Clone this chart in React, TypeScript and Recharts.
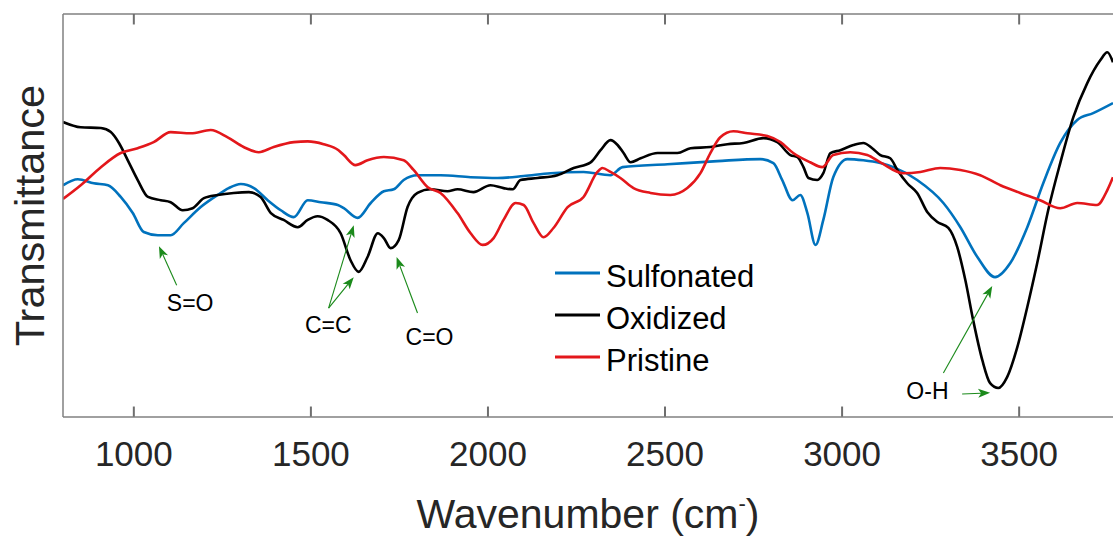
import React from 'react';
import { LineChart, Line, XAxis, YAxis, Legend, ReferenceLine, ReferenceDot } from 'recharts';

const FONT = '"Liberation Sans", Arial, Helvetica, sans-serif';
const AXIS_GRAY = '#808080';
const TICK_GRAY = '#6e6e6e';
const TEXT_DARK = '#262626';
const ARROW_GREEN = '#1b8a1b';

const xTicks = [1000, 1500, 2000, 2500, 3000, 3500];
const xDomain = [800, 3765];
const yDomain = [0, 100];
const tickLen = 2.6; // inward tick length in transmittance units

// Sulfonated (blue)
const sulfonatedWn = [800, 842, 887, 927, 963, 997, 1028, 1068, 1104, 1141, 1189, 1237, 1268, 1302, 1339, 1378, 1415, 1452, 1491, 1528, 1576, 1593, 1632, 1669, 1706, 1734, 1762, 1801, 1866, 1951, 2027, 2101, 2177, 2270, 2346, 2380, 2507, 2648, 2769, 2806, 2831, 2860, 2882, 2902, 2925, 2947, 2975, 3015, 3060, 3108, 3145, 3212, 3286, 3334, 3382, 3432, 3475, 3523, 3568, 3616, 3664, 3709, 3765];
const sulfonatedT = [57.5, 59.0, 58.0, 57.5, 54.6, 50.6, 45.9, 45.1, 45.1, 48.1, 52.1, 55.1, 56.8, 57.8, 56.8, 53.8, 51.3, 49.6, 53.8, 53.3, 52.6, 51.8, 49.4, 53.1, 56.0, 56.5, 58.8, 60.0, 60.0, 59.5, 59.3, 59.8, 60.5, 60.8, 60.0, 62.0, 62.7, 63.5, 64.0, 63.0, 58.8, 53.8, 55.1, 50.6, 42.7, 48.9, 59.5, 64.0, 63.7, 63.0, 62.0, 58.8, 53.1, 47.1, 39.7, 34.7, 38.2, 47.1, 58.0, 68.0, 73.7, 75.4, 77.9];

// Oxidized (black)
const oxidizedWn = [800, 850, 907, 935, 958, 983, 1011, 1040, 1076, 1104, 1138, 1166, 1198, 1237, 1282, 1325, 1358, 1387, 1423, 1463, 1491, 1519, 1547, 1584, 1612, 1635, 1660, 1689, 1706, 1725, 1748, 1773, 1801, 1838, 1886, 1914, 1959, 2007, 2044, 2070, 2092, 2140, 2196, 2242, 2290, 2318, 2346, 2366, 2383, 2403, 2431, 2479, 2535, 2572, 2628, 2676, 2721, 2778, 2817, 2854, 2874, 2891, 2905, 2930, 2947, 2967, 2995, 3032, 3060, 3085, 3108, 3136, 3156, 3184, 3212, 3241, 3269, 3300, 3325, 3348, 3370, 3396, 3418, 3441, 3466, 3495, 3523, 3551, 3582, 3616, 3653, 3692, 3729, 3749, 3765];
const oxidizedT = [73.2, 71.9, 71.7, 70.7, 68.0, 63.7, 58.8, 54.6, 53.8, 53.3, 51.3, 51.8, 54.3, 55.1, 55.6, 55.8, 54.6, 50.6, 48.9, 47.1, 48.9, 49.8, 48.9, 45.6, 38.9, 36.0, 39.7, 45.6, 44.4, 41.9, 43.9, 52.1, 55.6, 56.5, 56.0, 56.5, 55.8, 57.5, 56.8, 56.5, 58.8, 59.3, 60.0, 61.8, 63.2, 66.2, 68.7, 67.5, 65.5, 63.2, 64.2, 65.5, 65.5, 66.7, 67.0, 67.7, 68.0, 69.2, 68.2, 65.0, 64.5, 62.0, 59.3, 58.8, 60.5, 65.5, 66.2, 67.5, 68.0, 66.7, 65.0, 64.2, 61.3, 58.0, 55.6, 50.8, 48.4, 46.9, 42.2, 34.0, 24.1, 14.1, 8.4, 7.2, 9.9, 17.4, 27.3, 38.2, 51.3, 63.0, 74.4, 82.8, 88.5, 90.5, 88.0];

// Pristine (red)
const pristineWn = [800, 850, 907, 963, 1011, 1056, 1104, 1161, 1217, 1265, 1310, 1353, 1395, 1452, 1491, 1536, 1578, 1593, 1626, 1660, 1706, 1762, 1790, 1830, 1866, 1914, 1951, 1985, 2016, 2044, 2078, 2101, 2129, 2157, 2185, 2225, 2270, 2309, 2323, 2346, 2374, 2411, 2459, 2515, 2563, 2600, 2628, 2656, 2693, 2733, 2789, 2826, 2862, 2910, 2944, 2975, 3023, 3071, 3108, 3173, 3221, 3277, 3334, 3390, 3447, 3503, 3559, 3616, 3664, 3720, 3749, 3765];
const pristineT = [54.1, 57.5, 62.0, 65.5, 66.7, 68.2, 70.7, 70.4, 71.2, 69.4, 67.0, 65.7, 67.0, 68.2, 68.4, 67.7, 66.2, 65.0, 62.5, 63.7, 64.5, 63.7, 61.3, 57.0, 55.6, 50.6, 45.6, 42.7, 44.4, 48.9, 53.1, 52.6, 48.1, 44.6, 46.9, 52.1, 54.6, 60.8, 61.8, 60.8, 59.3, 56.8, 55.6, 55.1, 56.8, 60.5, 65.5, 69.4, 70.9, 70.4, 69.7, 68.2, 65.5, 63.2, 62.0, 65.0, 65.7, 65.0, 63.2, 60.5, 60.8, 61.8, 61.3, 60.0, 57.5, 55.6, 53.8, 51.8, 53.1, 52.6, 56.3, 59.5];

// peak labels and arrows (wavenumber, transmittance)
const peakLabels = [
  { text: 'S=O', wn: 1159, t: 26.3 },
  { text: 'C=C', wn: 1549, t: 20.8 },
  { text: 'C=O', wn: 1835, t: 17.9 },
  { text: 'O-H', wn: 3241, t: 4.5 },
];
const peakArrows = [
  { from: [1121, 32.7], to: [1071, 42.4] },
  { from: [1550, 27.0], to: [1621, 47.6] },
  { from: [1550, 27.0], to: [1621, 34.7] },
  { from: [1801, 25.8], to: [1742, 39.7] },
  { from: [3286, 10.9], to: [3424, 32.5] },
  { from: [3339, 5.7], to: [3418, 6.0] },
];

const toPoints = (wn: number[], t: number[]) => wn.map((w, i) => ({ wn: w, t: t[i] }));

const series = [
  { name: 'Sulfonated', color: '#0072bd', data: toPoints(sulfonatedWn, sulfonatedT) },
  { name: 'Oxidized', color: '#000000', data: toPoints(oxidizedWn, oxidizedT) },
  { name: 'Pristine', color: '#e3171b', data: toPoints(pristineWn, pristineT) },
];

const BottomTick = (props: any) => {
  const { x, y, payload } = props;
  return (
    <text x={x} y={y + 49} textAnchor="middle" fontSize={35} fill={TEXT_DARK} fontFamily={FONT}>
      {payload.value}
    </text>
  );
};

const TickMark = (props: any) => (
  <line x1={props.x1} y1={props.y1} x2={props.x2} y2={props.y2} stroke={TICK_GRAY} strokeWidth={2} />
);

const Arrow = (props: any) => {
  const { x1, y1, x2, y2 } = props;
  const ang = Math.atan2(y2 - y1, x2 - x1);
  const len = 12;
  const half = 4.5;
  const bx = x2 - len * Math.cos(ang);
  const by = y2 - len * Math.sin(ang);
  const nx = -Math.sin(ang) * half;
  const ny = Math.cos(ang) * half;
  const mx = x2 - (len - 3) * Math.cos(ang);
  const my = y2 - (len - 3) * Math.sin(ang);
  return (
    <g>
      <line x1={x1} y1={y1} x2={mx} y2={my} stroke={ARROW_GREEN} strokeWidth={1.1} />
      <polygon
        points={`${x2},${y2} ${bx + nx},${by + ny} ${mx},${my} ${bx - nx},${by - ny}`}
        fill={ARROW_GREEN}
      />
    </g>
  );
};

const LegendBox = () => (
  <div style={{ fontFamily: FONT }}>
    {series.map((s) => (
      <div key={s.name} style={{ display: 'flex', height: 42 }}>
        <svg width={51} height={42}>
          <line x1={0} x2={45} y1={17} y2={17} stroke={s.color} strokeWidth={3} />
        </svg>
        <span style={{ fontSize: 31, lineHeight: '42px', color: '#000', whiteSpace: 'nowrap' }}>{s.name}</span>
      </div>
    ))}
  </div>
);

export default function App() {
  return (
    <div style={{ position: 'absolute', left: 0, top: 0, width: 1113, height: 536, background: '#fff' }}>
      <LineChart width={1113} height={536} margin={{ top: 14, right: 0, bottom: 0, left: 0 }}>
        <XAxis
          dataKey="wn"
          type="number"
          domain={xDomain}
          allowDataOverflow
          ticks={xTicks}
          height={119}
          tickSize={0}
          tickMargin={0}
          tickLine={false}
          tick={<BottomTick />}
          axisLine={{ stroke: AXIS_GRAY, strokeWidth: 1.5 }}
          label={{
            content: (p: any) => {
              const vb = p.viewBox;
              return (
                <text x={vb.x + vb.width / 2} y={vb.y + 111} textAnchor="middle" fontSize={41} fill={TEXT_DARK} fontFamily={FONT}>
                  <tspan>Wavenumber (cm</tspan>
                  <tspan dy={-17} fontSize={22}>-</tspan>
                  <tspan dy={17}>)</tspan>
                </text>
              );
            },
          }}
        />
        <YAxis
          type="number"
          domain={yDomain}
          allowDataOverflow
          width={63}
          tick={false}
          tickLine={false}
          axisLine={{ stroke: AXIS_GRAY, strokeWidth: 1.5 }}
          label={{
            content: (p: any) => {
              const vb = p.viewBox;
              const cx = vb.x + 44;
              const cy = vb.y + vb.height / 2;
              return (
                <text x={cx} y={cy} transform={`rotate(-90, ${cx}, ${cy})`} textAnchor="middle" fontSize={41.5} fill={TEXT_DARK} fontFamily={FONT}>
                  Transmittance
                </text>
              );
            },
          }}
        />
        <Legend
          layout="vertical"
          align="center"
          verticalAlign="middle"
          content={() => <LegendBox />}
          wrapperStyle={{ left: 555, top: 256, width: 'auto', height: 'auto' }}
        />
        {/* top border of the box */}
        <ReferenceLine y={yDomain[1]} stroke={AXIS_GRAY} strokeWidth={1.5} />
        {/* inward ticks on bottom and top edges */}
        {xTicks.map((v) => (
          <ReferenceLine
            key={`tb-${v}`}
            ifOverflow="visible"
            segment={[{ x: v, y: yDomain[0] }, { x: v, y: yDomain[0] + tickLen }]}
            shape={(p: any) => <TickMark {...p} />}
          />
        ))}
        {xTicks.map((v) => (
          <ReferenceLine
            key={`tt-${v}`}
            ifOverflow="visible"
            segment={[{ x: v, y: yDomain[1] - tickLen }, { x: v, y: yDomain[1] }]}
            shape={(p: any) => <TickMark {...p} />}
          />
        ))}
        {series.map((s) => (
          <Line
            key={s.name}
            name={s.name}
            data={s.data}
            dataKey="t"
            type="monotone"
            stroke={s.color}
            strokeWidth={2.6}
            dot={false}
            activeDot={false}
            isAnimationActive={false}
          />
        ))}
        {peakArrows.map((a, i) => (
          <ReferenceLine
            key={`arrow-${i}`}
            segment={[{ x: a.from[0], y: a.from[1] }, { x: a.to[0], y: a.to[1] }]}
            shape={(p: any) => <Arrow {...p} />}
          />
        ))}
        {peakLabels.map((l) => (
          <ReferenceDot
            key={l.text}
            x={l.wn}
            y={l.t}
            r={0}
            shape={(p: any) => (
              <text x={p.cx} y={p.cy} textAnchor="middle" fontSize={23} fill="#000" fontFamily={FONT}>
                {l.text}
              </text>
            )}
          />
        ))}
      </LineChart>
    </div>
  );
}
